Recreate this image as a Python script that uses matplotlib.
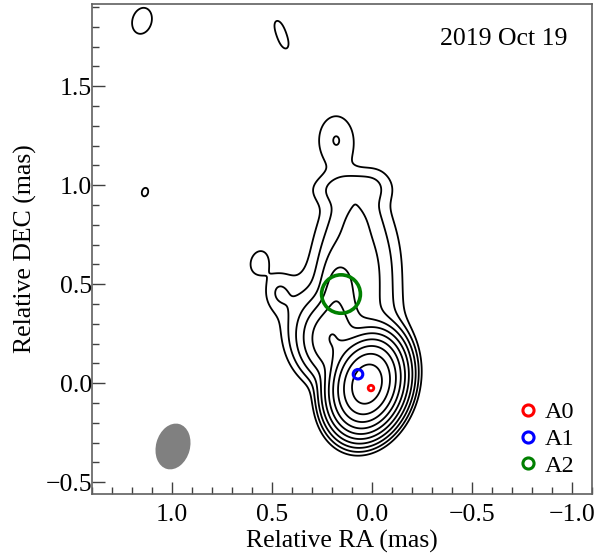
import numpy as np
import matplotlib
matplotlib.use("Agg")
import matplotlib.pyplot as plt
from matplotlib.patches import Ellipse, Circle
from matplotlib.lines import Line2D
from matplotlib.ticker import MultipleLocator

# Gaussian model of the brightness distribution (RA, DEC in mas, peak in units of lowest contour)
src_ra = [0.025, 0.21, 0.18, 0.08, 0.00, 0.35, 0.47, 0.08, 0.115, 0.18, -0.02, 0.08,
          1.15, 0.47, 0.435, 1.135, 0.565]
src_dec = [-0.005, 0.22, 0.42, 0.55, 0.28, 0.30, 0.46, 0.85, 0.98, 1.23, 1.03, 0.60,
           1.83, 1.81, 1.71, 0.965, 0.61]
src_peak = [850.0, 28.0, 8.0, 6.0, 1.5, 2.0, 1.7, 1.5, 2.1, 1.95, 0.6, 0.6,
            1.25, 0.95, 0.95, 1.05, 1.5]
src_sx = [0.072, 0.075, 0.045, 0.11, 0.10, 0.08, 0.05, 0.07, 0.12, 0.07, 0.06, 0.20,
          0.072, 0.035, 0.035, 0.05, 0.044]
src_sy = [0.100, 0.10, 0.12, 0.22, 0.12, 0.15, 0.07, 0.08, 0.055, 0.10, 0.06, 0.30,
          0.100, 0.06, 0.06, 0.07, 0.061]
src_pa = [15.0, 0.0, 0.0, 0.0, 0.0, 0.0, 0.0, 0.0, 0.0, 0.0, 0.0, 0.0,
          15.0, -20.0, -20.0, 15.0, 15.0]

contour_base = 1.0
contour_steps = np.arange(10)

# restoring beam (mas, deg)
beam_ra, beam_dec = 0.995, -0.32
beam_minor, beam_major, beam_pa = 0.17, 0.235, 15.0

# model-fit components
comp_names = ["A0", "A1", "A2"]
comp_ra = [0.005, 0.07, 0.155]
comp_dec = [-0.025, 0.045, 0.45]
comp_radius = [0.014, 0.024, 0.097]
comp_colors = ["#ff0000", "#0000ff", "#008000"]
comp_lw = [2.0, 2.2, 2.6]

epoch_label = "2019 Oct 19"

plt.rcParams["font.family"] = ["Liberation Serif", "DejaVu Serif"]
plt.rcParams["mathtext.fontset"] = "stix"
plt.rcParams["font.size"] = 18.5

ra = np.linspace(-1.3, 1.6, 700)
dec = np.linspace(-0.8, 2.1, 700)
RA, DEC = np.meshgrid(ra, dec)
image = np.zeros_like(RA)
for x0, y0, amp, sx, sy, pa in zip(src_ra, src_dec, src_peak, src_sx, src_sy, src_pa):
    t = np.deg2rad(pa)
    dx, dy = RA - x0, DEC - y0
    u = dx * np.cos(t) + dy * np.sin(t)
    v = -dx * np.sin(t) + dy * np.cos(t)
    image += amp * np.exp(-0.5 * (u**2 / sx**2 + v**2 / sy**2))

# contours at base * 2^n
levels = contour_base * 2.0 ** contour_steps

fig = plt.figure(figsize=(5.98, 5.54), dpi=100)
ax = fig.add_axes([92 / 598, 60 / 554, 500 / 598, 490 / 554])

ax.contour(RA, DEC, image, levels=levels, colors="black", linewidths=1.3)

beam = Ellipse((beam_ra, beam_dec), beam_minor, beam_major, angle=beam_pa,
               facecolor="#808080", edgecolor="none")
ax.add_patch(beam)

for x0, y0, r, c, lw in zip(comp_ra, comp_dec, comp_radius, comp_colors, comp_lw):
    ax.add_patch(Circle((x0, y0), r, fill=False, edgecolor=c, linewidth=lw, zorder=5))

handles = [Line2D([], [], ls="none", marker="o", markersize=8, markerfacecolor="none",
                  markeredgecolor=c, markeredgewidth=2.2) for c in comp_colors]
ax.legend(handles, comp_names, loc="lower right", frameon=False, handlelength=0.8,
          handletextpad=0.3, labelspacing=0.2, borderaxespad=0.3, fontsize=17.5)

ax.text(0.95, 0.928, epoch_label, transform=ax.transAxes, ha="right", va="center")

ax.set_xlim(1.4, -1.1)
ax.set_ylim(-0.56, 1.915)
ax.xaxis.set_major_locator(MultipleLocator(0.5))
ax.xaxis.set_minor_locator(MultipleLocator(0.1))
ax.yaxis.set_major_locator(MultipleLocator(0.5))
ax.yaxis.set_minor_locator(MultipleLocator(0.1))
ax.tick_params(which="both", direction="in", top=False, right=False, color="#404040")
ax.tick_params(which="major", length=9, width=1.0)
ax.tick_params(which="minor", length=5, width=1.0)
ax.tick_params(axis="x", which="major", pad=7)
ax.tick_params(axis="y", which="major", pad=0)
for s in ax.spines.values():
    s.set_color("#606060")
    s.set_linewidth(1.2)

ax.set_xlabel("Relative RA (mas)", labelpad=3)
ax.set_ylabel("Relative DEC (mas)", labelpad=6)

fig.savefig("out.png", dpi=100)
